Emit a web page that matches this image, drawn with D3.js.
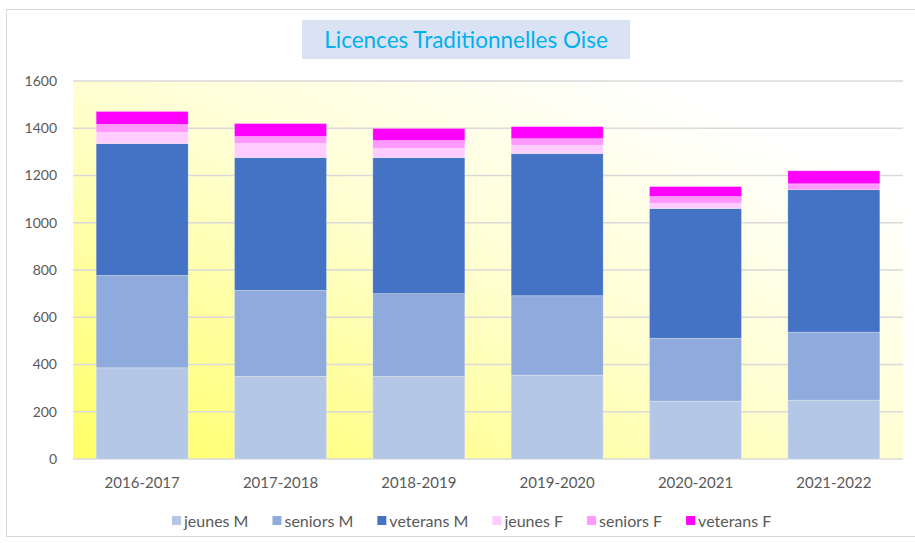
<!DOCTYPE html>
<html>
<head>
<meta charset="utf-8">
<script src="https://cdn.jsdelivr.net/npm/d3@7"></script>
<style>
    body { margin: 0; background: #fff; }
    svg { display: block; font-family: Lato, "Open Sans", sans-serif; }
</style>
</head>
<body>
<svg id="chart" width="915" height="543"></svg>
<script>
// seasons on the x axis
const seasons = ["2016-2017", "2017-2018", "2018-2019", "2019-2020", "2020-2021", "2021-2022"];

// one array per series, bottom to top of the stack
const jeunesM   = [386, 350, 350, 355, 245, 249];
const seniorsM  = [391, 364, 350, 336, 266, 288];
const veteransM = [558, 562, 576, 602, 549, 603];
const jeunesF   = [47, 59, 38, 34, 21, 0];
const seniorsF  = [34, 30, 34, 29, 30, 25];
const veteransF = [55, 55, 51, 51, 42, 55];

const seriesNames = ["jeunes M", "seniors M", "veterans M", "jeunes F", "seniors F", "veterans F"];
const seriesValues = [jeunesM, seniorsM, veteransM, jeunesF, seniorsF, veteransF];
const seriesColors = ["#b4c7e7", "#8faadc", "#4472c4", "#ffccff", "#ff99ff", "#ff00ff"];

const yTicks = [0, 200, 400, 600, 800, 1000, 1200, 1400, 1600];

/** Stacked column chart of the licences. */
class LicenceChart {
    constructor() {
        this.svg = d3.select("#chart");
        this.plot = {left: 73, right: 903, top: 81, bottom: 459};

        this.x = d3.scaleBand()
            .domain(seasons)
            .range([this.plot.left, this.plot.right])
            .paddingInner(0.335)
            .paddingOuter(0.1675);

        this.y = d3.scaleLinear()
            .domain([0, 1600])
            .range([this.plot.bottom, this.plot.top]);
    }

    /** frame, plot background gradient and title box */
    drawBackground() {
        let svg = this.svg;
        svg.append("rect")
            .attr("x", 6.5).attr("y", 9.5)
            .attr("width", 940).attr("height", 527)
            .attr("fill", "#fff")
            .attr("stroke", "#d9d9d9");

        let grad = svg.append("defs").append("linearGradient")
            .attr("id", "plotBg")
            .attr("x1", 0).attr("y1", 1).attr("x2", 1).attr("y2", 0);
        grad.append("stop").attr("offset", 0).attr("stop-color", "#ffff66");
        grad.append("stop").attr("offset", 0.5).attr("stop-color", "#ffffd2");
        grad.append("stop").attr("offset", 0.85).attr("stop-color", "#ffffff");

        svg.append("rect")
            .attr("x", this.plot.left).attr("y", this.plot.top)
            .attr("width", this.plot.right - this.plot.left)
            .attr("height", this.plot.bottom - this.plot.top)
            .attr("fill", "url(#plotBg)");

        // title in its light blue box
        svg.append("rect")
            .attr("x", 302).attr("y", 20)
            .attr("width", 328).attr("height", 39)
            .attr("fill", "#dae3f3");
        svg.append("text")
            .attr("x", 466).attr("y", 48)
            .attr("text-anchor", "middle")
            .attr("fill", "#00b0f0")
            .style("font-size", "22.5px")
            .text("Licences Traditionnelles Oise");
    }

    /** gridlines and tick labels */
    drawAxes() {
        let svg = this.svg, y = this.y, x = this.x;

        svg.append("g").selectAll("line")
            .data(yTicks)
            .enter()
            .append("line")
            .attr("x1", this.plot.left).attr("x2", this.plot.right)
            .attr("y1", d => y(d)).attr("y2", d => y(d))
            .attr("stroke", "#d9d9d9")
            .attr("stroke-width", 1.5);

        svg.append("g").selectAll("text")
            .data(yTicks)
            .enter()
            .append("text")
            .attr("x", 57)
            .attr("y", d => y(d))
            .attr("dy", "0.35em")
            .attr("text-anchor", "end")
            .attr("fill", "#595959")
            .style("font-size", "14px")
            .text(d => d);

        svg.append("g").selectAll("text")
            .data(seasons)
            .enter()
            .append("text")
            .attr("x", d => x(d) + x.bandwidth() / 2)
            .attr("y", 483)
            .attr("dy", "0.35em")
            .attr("text-anchor", "middle")
            .attr("fill", "#595959")
            .style("font-size", "15px")
            .text(d => d);
    }

    /** stacked columns */
    drawBars() {
        let x = this.x, y = this.y;
        let rows = seasons.map((s, i) => {
            let row = {season: s};
            seriesNames.forEach((n, k) => row[n] = seriesValues[k][i]);
            return row;
        });
        let stacked = d3.stack().keys(seriesNames)(rows);

        this.svg.append("g").selectAll("g")
            .data(stacked)
            .enter()
            .append("g")
            .attr("fill", (d, k) => seriesColors[k])
            .selectAll("rect")
            .data(d => d)
            .enter()
            .append("rect")
            .attr("x", d => x(d.data.season))
            .attr("width", x.bandwidth())
            .attr("y", d => y(d[1]))
            .attr("height", d => y(d[0]) - y(d[1]))
            .attr("stroke", "rgba(255,255,255,0.35)")
            .attr("stroke-width", 0.75);
    }

    /** legend row under the axis */
    drawLegend() {
        let legend = this.svg.append("g");
        let pos = 172;
        seriesNames.forEach((n, k) => {
            legend.append("rect")
                .attr("x", pos).attr("y", 516)
                .attr("width", 9).attr("height", 9)
                .attr("fill", seriesColors[k]);
            let t = legend.append("text")
                .attr("x", pos + 12).attr("y", 521)
                .attr("dy", "0.35em")
                .attr("fill", "#595959")
                .style("font-size", "16px")
                .text(n);
            pos += 12 + t.node().getComputedTextLength() + 24;
        });
    }
}

let chart = new LicenceChart();
chart.drawBackground();
chart.drawAxes();
chart.drawBars();
chart.drawLegend();
</script>
</body>
</html>
